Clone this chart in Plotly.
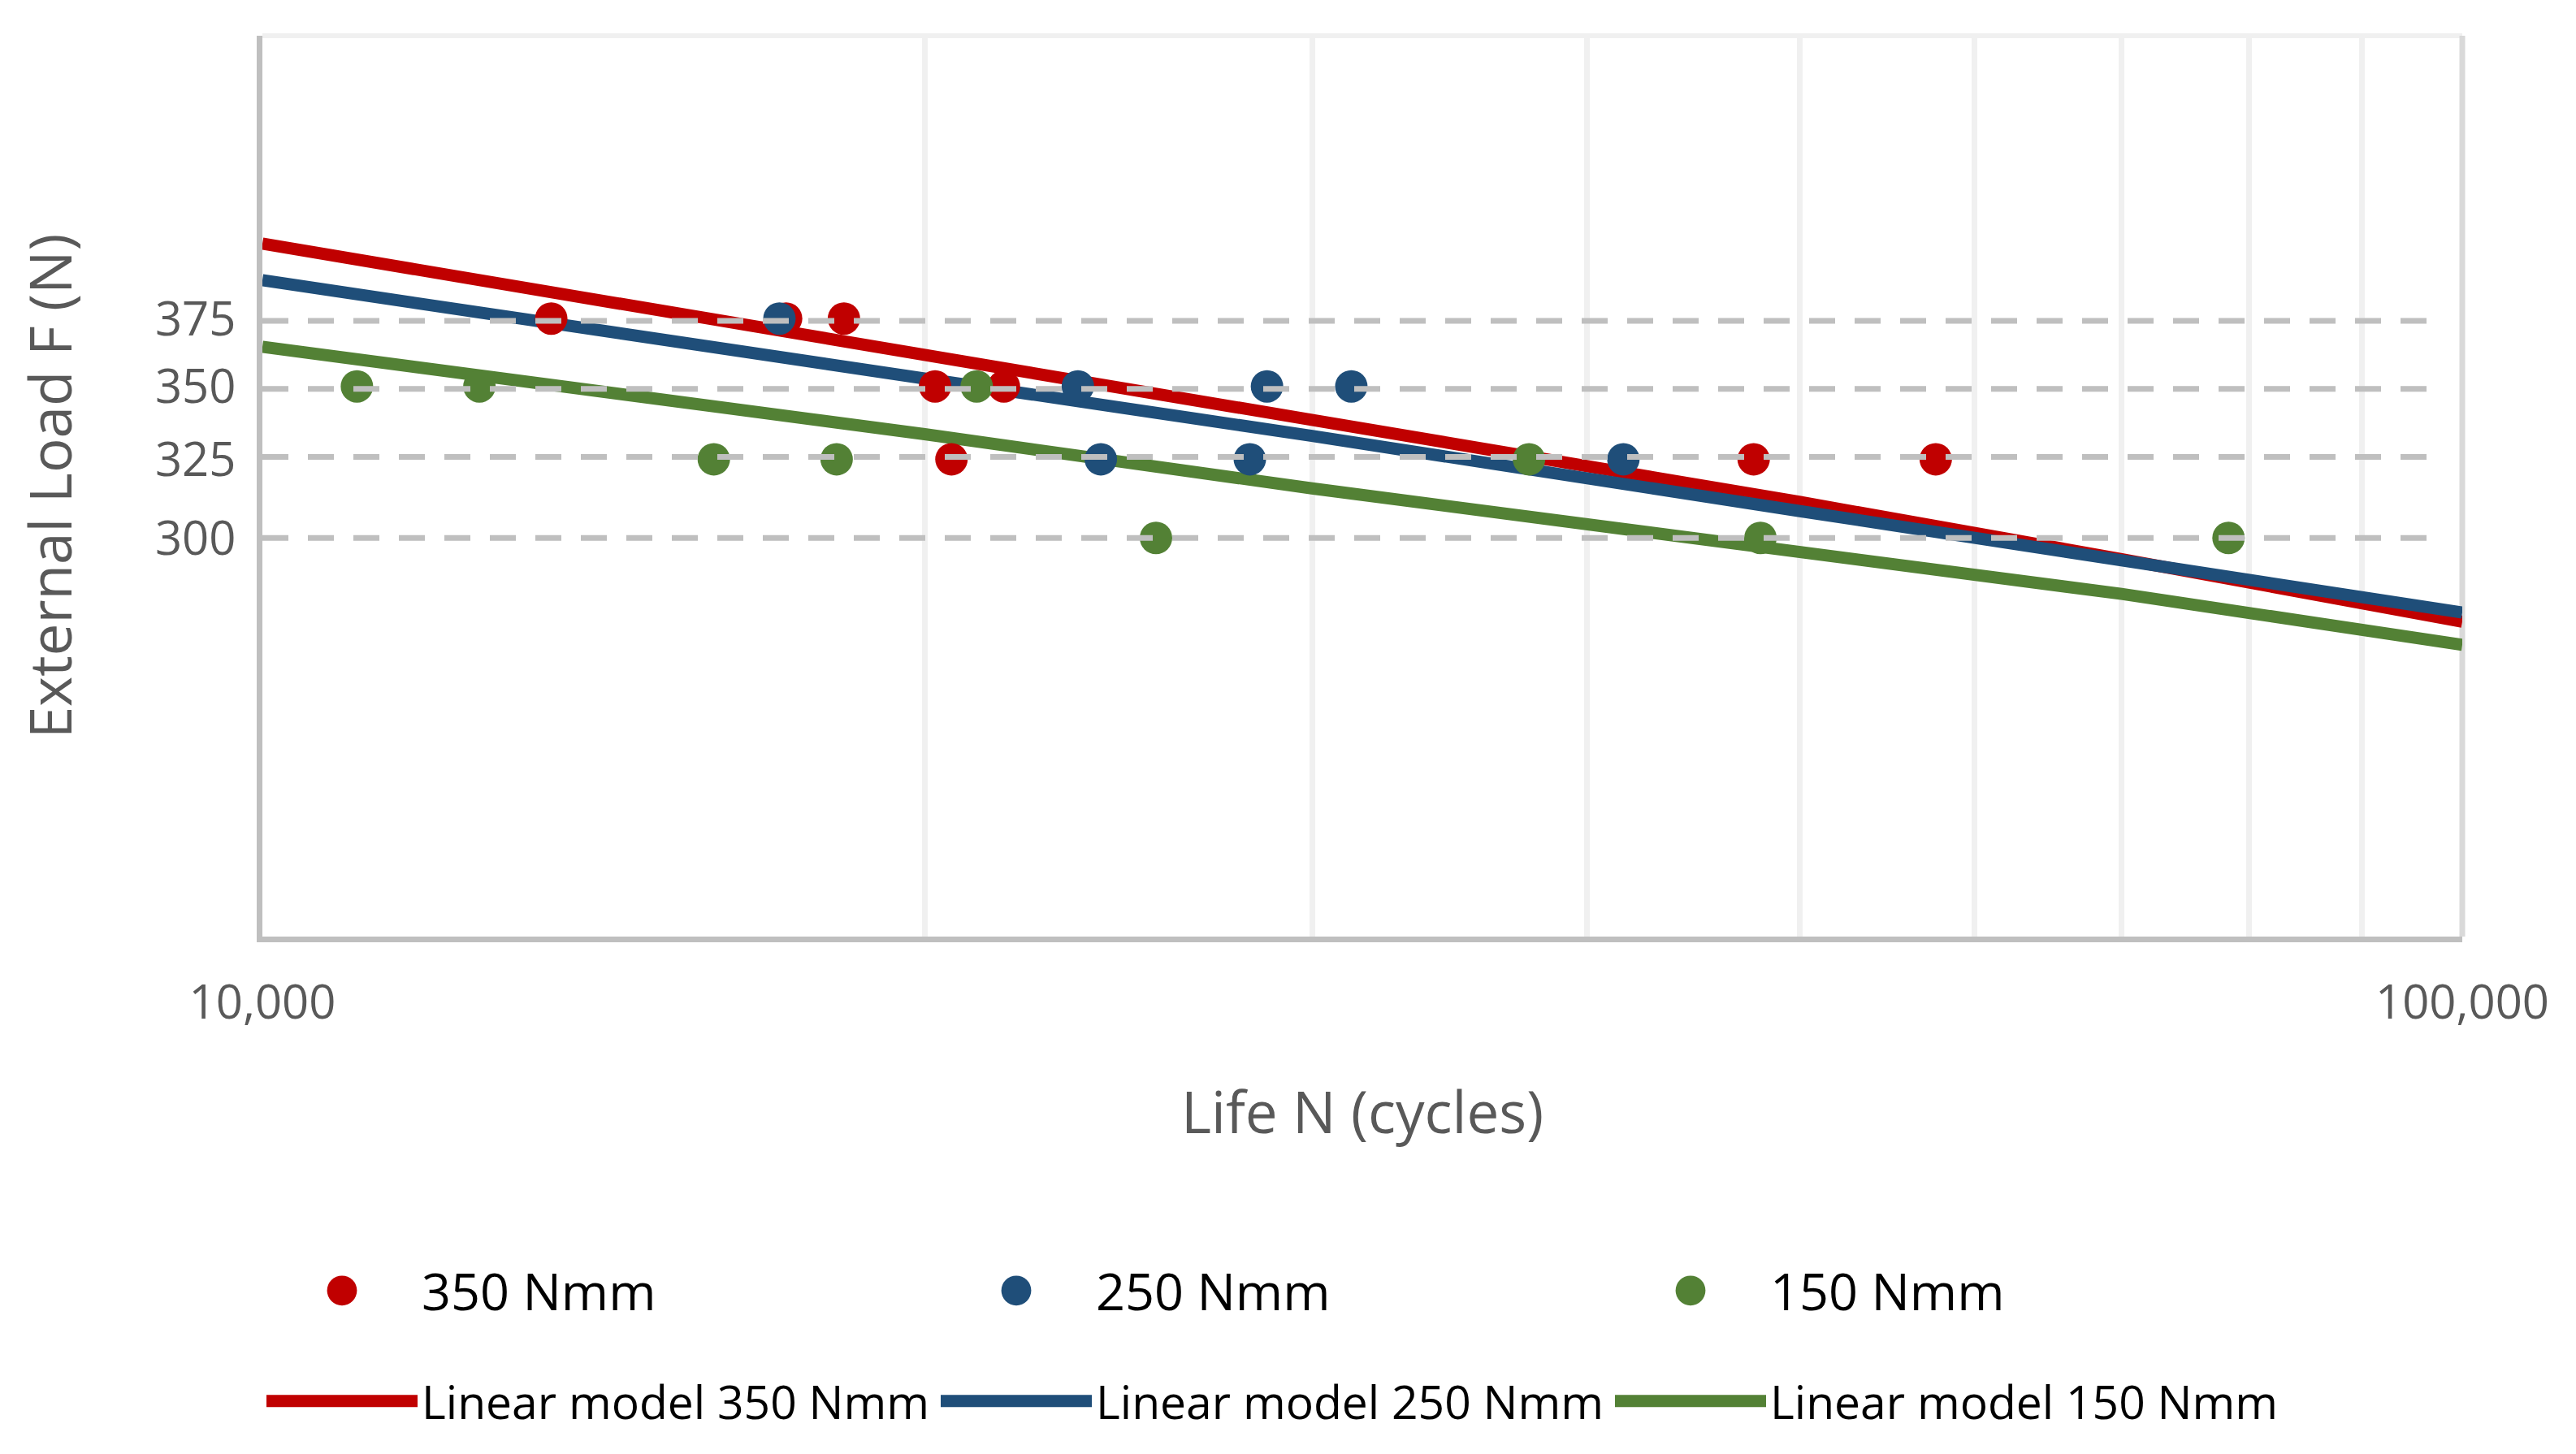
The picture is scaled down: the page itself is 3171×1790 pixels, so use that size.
import plotly.graph_objects as go
import math

# ---- data ----
red_N = [13530, 17300, 18380, 20220, 21730, 20570, 47630, 57630]
red_F = [375, 375, 375, 350, 350, 325, 325, 325]
blue_N = [17180, 23480, 28620, 31260, 24050, 28110, 41560]
blue_F = [375, 350, 350, 350, 325, 325, 325]
green_N = [11040, 12550, 21120, 16040, 18240, 37650, 25480, 47970, 78300]
green_F = [350, 350, 350, 325, 325, 325, 300, 300, 300]

model_N = [10000, 20000, 30000, 50000, 70000, 100000]
red_model = [404.7, 361.4, 338.3, 311.2, 293.6, 275.5]
blue_model = [389.9, 353.5, 332.8, 308.3, 292.9, 278.1]
green_model = [364.4, 333.4, 315.5, 295.8, 283.4, 269.1]

y_ticks = [300, 325, 350, 375]
dash_levels = [300, 325.8, 349.1, 374.1]
x_ticks = [10000, 20000, 30000, 40000, 50000, 60000, 70000, 80000, 90000, 100000]
x_ticktext = ["10,000", "", "", "", "", "", "", "", "", "100,000"]

RED = "#C00000"
BLUE = "#1F4E79"
GREEN = "#538135"
FONT = "Open Sans"

fig = go.Figure()

# model lines (below markers)
for name, vals, col in [("Linear model 350 Nmm", red_model, RED),
                        ("Linear model 250 Nmm", blue_model, BLUE),
                        ("Linear model 150 Nmm", green_model, GREEN)]:
    fig.add_trace(go.Scatter(x=model_N, y=vals, mode="lines", name=name,
                             line=dict(color=col, width=15), legend="legend2"))

for name, xs, ys, col in [("350 Nmm", red_N, red_F, RED),
                          ("250 Nmm", blue_N, blue_F, BLUE),
                          ("150 Nmm", green_N, green_F, GREEN)]:
    fig.add_trace(go.Scatter(x=xs, y=ys, mode="markers", name=name,
                             marker=dict(color=col, size=40), legend="legend"))

shapes = []
for lv in dash_levels:
    shapes.append(dict(type="line", xref="paper", yref="y", x0=0, x1=0.99, y0=lv, y1=lv,
                       line=dict(color="#BFBFBF", width=7, dash="32px,24px"), layer="above"))
# top and right frame lines
shapes.append(dict(type="line", xref="paper", yref="paper", x0=0, x1=1, y0=1, y1=1,
                   line=dict(color="#F0F0F0", width=6), layer="below"))
shapes.append(dict(type="line", xref="paper", yref="paper", x0=1, x1=1, y0=0, y1=1,
                   line=dict(color="#D9D9D9", width=7), layer="below"))

fig.update_layout(
    width=3171, height=1790,
    margin=dict(l=315, r=148, t=36, b=645),
    paper_bgcolor="white", plot_bgcolor="white",
    font=dict(family=FONT, color="#595959"),
    shapes=shapes,
    xaxis=dict(type="log", range=[4, 5], tickvals=x_ticks, ticktext=x_ticktext,
               showgrid=True, gridcolor="#F0F0F0", gridwidth=7,
               showline=True, linecolor="#BFBFBF", linewidth=7,
               ticks="", zeroline=False, ticklabelstandoff=24,
               tickfont=dict(size=58, color="#595959", family=FONT),
               title=dict(text="Life N (cycles)", font=dict(size=71, color="#595959", family=FONT),
                          standoff=78)),
    yaxis=dict(type="log", range=[math.log10(200), math.log10(500)], tickvals=y_ticks,
               showgrid=False, showline=True, linecolor="#BFBFBF", linewidth=7,
               ticks="", zeroline=False, ticklabelstandoff=14,
               tickfont=dict(size=58, color="#595959", family=FONT),
               title=dict(text="External Load F (N)", font=dict(size=71, color="#595959", family=FONT),
                          standoff=82)),
    legend=dict(orientation="h", x=0.0, y=-0.393, xanchor="left", yanchor="middle",
                entrywidth=629, entrywidthmode="pixels", itemwidth=186,
                font=dict(size=63, color="black", family=FONT), bgcolor="rgba(0,0,0,0)"),
    legend2=dict(orientation="h", x=0.0, y=-0.516, xanchor="left", yanchor="middle",
                 entrywidth=629, entrywidthmode="pixels", itemwidth=186,
                 font=dict(size=57, color="black", family=FONT), bgcolor="rgba(0,0,0,0)"),
)

# enlarge legend symbols (plotly caps legend marker size / line width)
post = """
var st = document.createElement('style');
st.textContent = '.legendlines path { stroke-width: 15px !important; }';
document.head.appendChild(st);
var gd = document.getElementById('{plot_id}');
function fixLegend(){
  gd.querySelectorAll('.legend path.scatterpts').forEach(function(p){
    if(!p.getAttribute('data-scaled')){
      p.setAttribute('transform', (p.getAttribute('transform')||'') + ' scale(2.3)');
      p.setAttribute('data-scaled','1');
    }
  });
}
fixLegend();
gd.on('plotly_afterplot', fixLegend);
"""

fig.write_html("out.html", post_script=post)
